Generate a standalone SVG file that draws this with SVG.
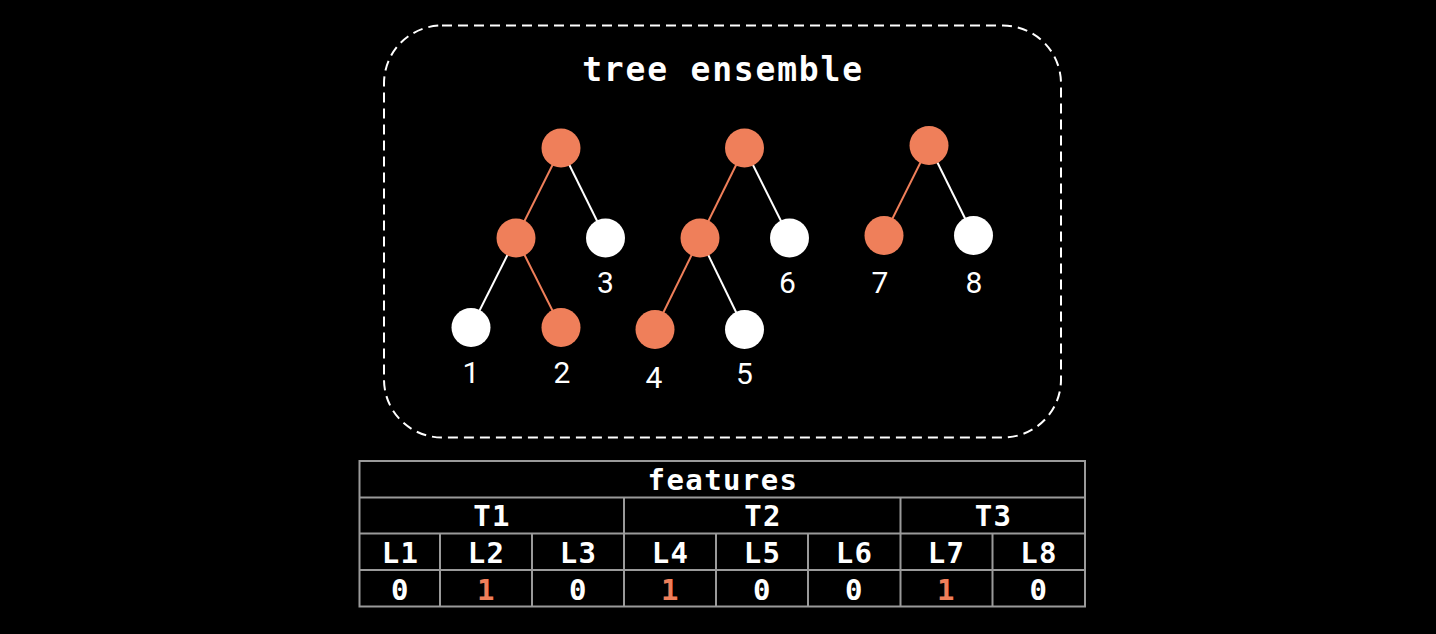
<svg xmlns="http://www.w3.org/2000/svg" width="1436" height="634" viewBox="0 0 1436 634">
<style>
.bg{fill:#000}
.box{fill:none;stroke:#fff;stroke-width:2;stroke-dasharray:10 6}
.title{font-family:"DejaVu Sans Mono","Liberation Mono",monospace;font-weight:bold;font-size:33px;letter-spacing:1.8px;fill:#fff;text-anchor:middle}
.on{fill:#EF7F5A}
.off{fill:#fff}
.eon{stroke:#EF7F5A;stroke-width:2}
.eoff{stroke:#fff;stroke-width:2}
.lbl{font-family:Roboto,"Noto Sans",sans-serif;font-size:30px;fill:#fff;text-anchor:middle}
.grid{stroke:#9a9a9a;stroke-width:2;fill:none}
.tt{font-family:"DejaVu Sans Mono","Liberation Mono",monospace;font-weight:bold;font-size:29px;letter-spacing:1.4px;fill:#fff;text-anchor:middle}
.tto{fill:#EF7F5A}
</style>
<rect class="bg" x="0" y="0" width="1436" height="634"/>
<g id="ensemble">
<rect class="box" x="384" y="25.5" width="677" height="412" rx="58" ry="58"/>
<text class="title" x="723" y="81">tree ensemble</text>
</g>
<g id="connectors">
<line class="eon" x1="561" y1="148" x2="516" y2="238"/>
<line class="eoff" x1="561" y1="148" x2="605.5" y2="238"/>
<line class="eoff" x1="516" y1="238" x2="471" y2="327.5"/>
<line class="eon" x1="516" y1="238" x2="561" y2="327.5"/>
<line class="eon" x1="744.5" y1="148" x2="700" y2="238"/>
<line class="eoff" x1="744.5" y1="148" x2="789.5" y2="238"/>
<line class="eon" x1="700" y1="238" x2="655" y2="329.5"/>
<line class="eoff" x1="700" y1="238" x2="744.5" y2="329.5"/>
<line class="eon" x1="929" y1="145.5" x2="884" y2="235.5"/>
<line class="eoff" x1="929" y1="145.5" x2="973.5" y2="235.5"/>
</g>
<g id="tree1">
<circle id="t1-root" class="on" cx="561" cy="148" r="19.5"/>
<circle id="t1-a" class="on" cx="516" cy="238" r="19.5"/>
<circle id="t1-leaf3" class="off" cx="605.5" cy="238" r="19.5"/>
<circle id="t1-leaf1" class="off" cx="471" cy="327.5" r="19.5"/>
<circle id="t1-leaf2" class="on" cx="561" cy="327.5" r="19.5"/>
<text class="lbl" x="471" y="383">1</text>
<text class="lbl" x="562" y="383">2</text>
<text class="lbl" x="605.5" y="293">3</text>
</g>
<g id="tree2">
<circle id="t2-root" class="on" cx="744.5" cy="148" r="19.5"/>
<circle id="t2-a" class="on" cx="700" cy="238" r="19.5"/>
<circle id="t2-leaf6" class="off" cx="789.5" cy="238" r="19.5"/>
<circle id="t2-leaf4" class="on" cx="655" cy="329.5" r="19.5"/>
<circle id="t2-leaf5" class="off" cx="744.5" cy="329.5" r="19.5"/>
<text class="lbl" x="654" y="388">4</text>
<text class="lbl" x="744.5" y="383.5">5</text>
<text class="lbl" x="787.5" y="293">6</text>
</g>
<g id="tree3">
<circle id="t3-root" class="on" cx="929" cy="145.5" r="19.5"/>
<circle id="t3-leaf7" class="on" cx="884" cy="235.5" r="19.5"/>
<circle id="t3-leaf8" class="off" cx="973.5" cy="235.5" r="19.5"/>
<text class="lbl" x="880" y="293">7</text>
<text class="lbl" x="974" y="293">8</text>
</g>
<g id="features-table">
<rect class="grid" x="359.5" y="461" width="725.5" height="145.5"/>
<line class="grid" x1="359.5" y1="497.5" x2="1085" y2="497.5"/>
<line class="grid" x1="359.5" y1="533.5" x2="1085" y2="533.5"/>
<line class="grid" x1="359.5" y1="570" x2="1085" y2="570"/>
<line class="grid" x1="624" y1="497.5" x2="624" y2="606.5"/>
<line class="grid" x1="900.5" y1="497.5" x2="900.5" y2="606.5"/>
<line class="grid" x1="440" y1="533.5" x2="440" y2="606.5"/>
<line class="grid" x1="532" y1="533.5" x2="532" y2="606.5"/>
<line class="grid" x1="716" y1="533.5" x2="716" y2="606.5"/>
<line class="grid" x1="808" y1="533.5" x2="808" y2="606.5"/>
<line class="grid" x1="992.5" y1="533.5" x2="992.5" y2="606.5"/>
<text class="tt" x="723" y="489.5">features</text>
<text class="tt" x="492" y="525.5">T1</text>
<text class="tt" x="763" y="525.5">T2</text>
<text class="tt" x="993.5" y="525.5">T3</text>
<text class="tt" x="400.5" y="562.5">L1</text>
<text class="tt" x="486.5" y="562.5">L2</text>
<text class="tt" x="578.5" y="562.5">L3</text>
<text class="tt" x="670.5" y="562.5">L4</text>
<text class="tt" x="762.5" y="562.5">L5</text>
<text class="tt" x="854.5" y="562.5">L6</text>
<text class="tt" x="946.5" y="562.5">L7</text>
<text class="tt" x="1039" y="562.5">L8</text>
<text class="tt" x="400.5" y="599.5">0</text>
<text class="tt tto" x="486.5" y="599.5">1</text>
<text class="tt" x="578.5" y="599.5">0</text>
<text class="tt tto" x="670.5" y="599.5">1</text>
<text class="tt" x="762.5" y="599.5">0</text>
<text class="tt" x="854.5" y="599.5">0</text>
<text class="tt tto" x="946.5" y="599.5">1</text>
<text class="tt" x="1039" y="599.5">0</text>
</g>
</svg>
